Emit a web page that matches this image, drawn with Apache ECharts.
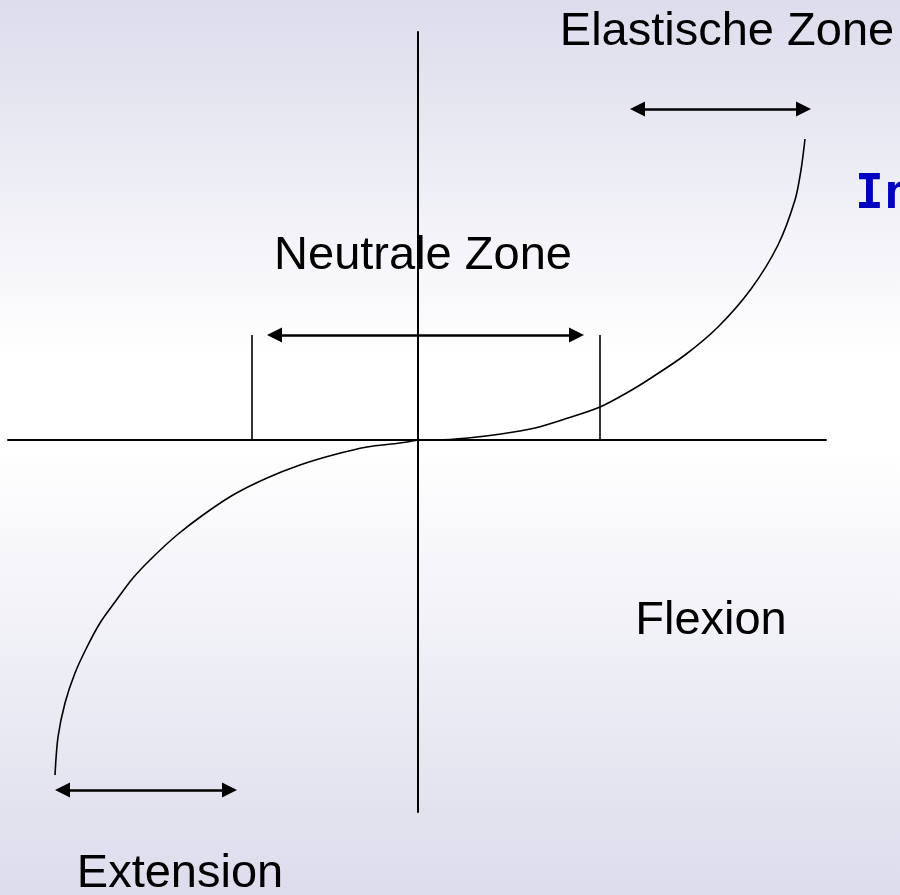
<!DOCTYPE html>
<html>
<head>
<meta charset="utf-8">
<script src="https://cdn.jsdelivr.net/npm/echarts@6/dist/echarts.min.js"></script>
<style>
  html, body { margin: 0; padding: 0; }
  #chart { width: 900px; height: 895px; }
</style>
</head>
<body>
<div id="chart"></div>
<script>
  // Kennlinie, Einheiten relativ zum Ursprung (y nach oben)
  const curveExtension = [
    [-363, -335], [-360, -297], [-353, -263], [-343, -233], [-331, -207],
    [-318, -183], [-303, -162], [-285, -138], [-265, -117], [-241, -95],
    [-215, -75], [-185, -55], [-151, -38], [-118, -25], [-85, -15],
    [-51, -7], [-18, -3], [0, 0]
  ];
  const curveFlexion = [
    [0, 0], [20, 0], [50, 2], [83, 6], [117, 12], [150, 22], [182, 33],
    [212, 49], [233, 62], [267, 85], [300, 113], [333, 151], [360, 195],
    [377, 240], [383, 270], [387, 301]
  ];

  const xRange = [-410, 408];
  const yRange = [-372, 408];

  // Grenzen der neutralen Zone
  const neutralBounds = [-166, 182];
  const neutralHeight = 105;

  // Pfeile: [x von, x bis, y]
  const arrowElastic = [212, 393, 331];
  const arrowNeutral = [-151, 166, 105];
  const arrowExtension = [-363, -181, -350];

  const labelTexts = ["Elastische Zone", "Neutrale Zone", "Flexion", "Extension"];
  const labelCoords = [[309, 408], [5, 184], [293, -181], [-238, -434]];
  const sideText = "In";
  const sideCoord = [437, 244];

  const HEAD = 15;

  function arrow(a) {
    const h = HEAD / 2;
    return [{ coord: [a[0] + h, a[2]] }, { coord: [a[1] - h, a[2]] }];
  }

  const chart = echarts.init(document.getElementById("chart"), null, { renderer: "canvas" });

  const option = {
    animation: false,
    backgroundColor: new echarts.graphic.LinearGradient(0, 0, 0, 1, [
      { offset: 0, color: "#dcdcec" },
      { offset: 0.4, color: "#ffffff" },
      { offset: 0.5, color: "#ffffff" },
      { offset: 1, color: "#dcdcec" },
    ]),
    grid: { left: 8, right: 74, top: 32, bottom: 83 },
    xAxis: {
      type: "value",
      min: xRange[0],
      max: xRange[1],
      axisLine: { onZero: true, lineStyle: { color: "#000", width: 2 } },
      axisTick: { show: false },
      axisLabel: { show: false },
      splitLine: { show: false },
    },
    yAxis: {
      type: "value",
      min: yRange[0],
      max: yRange[1],
      axisLine: { onZero: true, lineStyle: { color: "#000", width: 2 } },
      axisTick: { show: false },
      axisLabel: { show: false },
      splitLine: { show: false },
    },
    series: [
      {
        type: "line",
        data: curveExtension,
        smooth: 0.3,
        symbol: "none",
        silent: true,
        clip: false,
        lineStyle: { color: "#000", width: 1.6 },
      },
      {
        type: "line",
        data: curveFlexion,
        smooth: 0.3,
        symbol: "none",
        silent: true,
        clip: false,
        lineStyle: { color: "#000", width: 1.6 },
        markLine: {
          silent: true,
          symbol: ["none", "none"],
          label: { show: false },
          lineStyle: { color: "#000", width: 1.6, type: "solid" },
          data: neutralBounds.map((x) => [{ coord: [x, 0] }, { coord: [x, neutralHeight] }]),
        },
      },
      {
        type: "line",
        data: [],
        silent: true,
        markLine: {
          silent: true,
          symbol: ["triangle", "triangle"],
          symbolSize: [15, HEAD],
          label: { show: false },
          lineStyle: { color: "#000", width: 2.5, type: "solid" },
          itemStyle: { color: "#000" },
          data: [arrow(arrowElastic), arrow(arrowNeutral), arrow(arrowExtension)],
        },
      },
      {
        type: "scatter",
        silent: true,
        clip: false,
        symbolSize: 0.1,
        itemStyle: { color: "transparent", opacity: 1 },
        label: {
          show: true,
          position: "inside",
          formatter: (p) => p.name,
          color: "#000",
          opacity: 1,
          fontFamily: "Liberation Sans, Arial, sans-serif",
          fontSize: 47,
        },
        data: labelTexts
          .map((t, i) => ({ name: t, value: labelCoords[i] }))
          .concat([
            {
              name: sideText,
              value: sideCoord,
              label: {
                align: "left",
                color: "#0000c0",
                fontFamily: "DejaVu Sans Mono, monospace",
                fontWeight: "bold",
                fontSize: 48,
              },
            },
          ]),
      },
    ],
  };

  chart.setOption(option);
</script>
</body>
</html>
